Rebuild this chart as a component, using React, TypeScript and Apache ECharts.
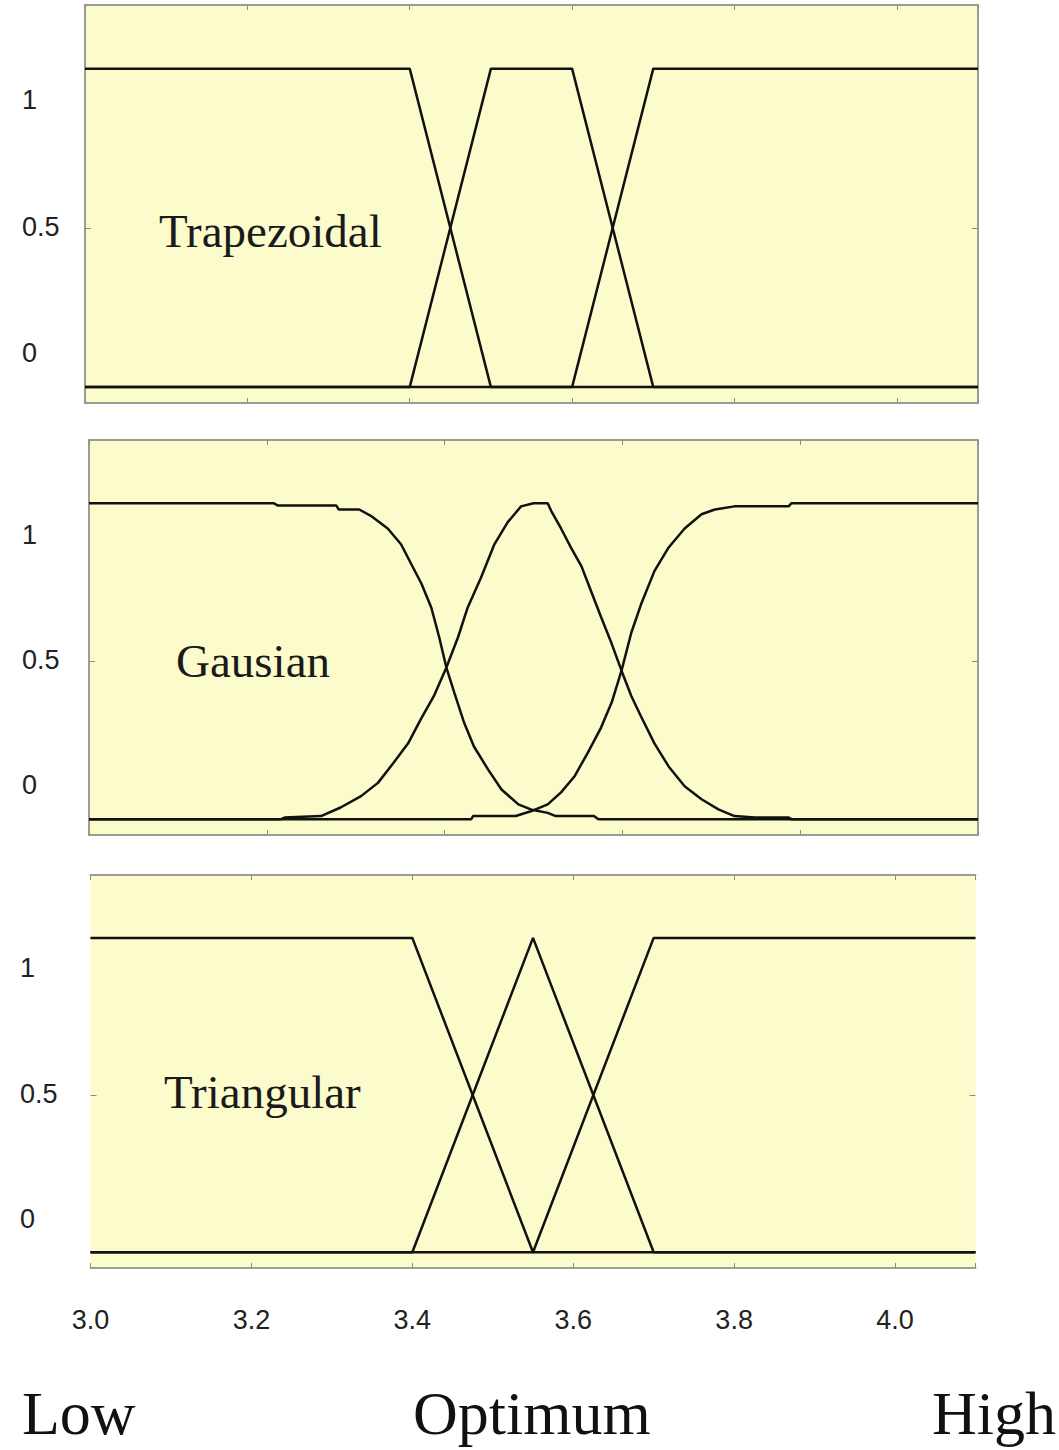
import React, { useEffect, useRef } from "react";
import * as echarts from "echarts";

// ---------- data ----------
const X_MIN = 3.0;
const X_STEP = 0.2;
const Y_TICK_VALUES = [0, 0.5, 1];
const PANEL_TITLES = ["Trapezoidal", "Gausian", "Triangular"];
const BOTTOM_WORDS = ["Low", "Optimum", "High"];

const trapLow = [[3.0, 1], [3.4, 1], [3.5, 0], [4.1, 0]];
const trapMid = [[3.0, 0], [3.4, 0], [3.5, 1], [3.6, 1], [3.7, 0], [4.1, 0]];
const trapHigh = [[3.0, 0], [3.6, 0], [3.7, 1], [4.1, 1]];

const gaussLow = [
  [3.0, 1], [3.208, 1], [3.212, 0.993], [3.278, 0.993], [3.281, 0.98], [3.304, 0.98],
  [3.317, 0.96], [3.336, 0.92], [3.351, 0.87], [3.362, 0.81], [3.374, 0.745], [3.385, 0.67],
  [3.394, 0.575], [3.402, 0.48], [3.411, 0.4], [3.422, 0.305], [3.433, 0.23], [3.449, 0.157],
  [3.464, 0.094], [3.483, 0.047], [3.497, 0.031], [3.516, 0.02], [3.525, 0.01], [3.568, 0.01],
  [3.573, 0], [4.0, 0],
];
const gaussMid = [
  [3.0, 0], [3.216, 0], [3.22, 0.005], [3.261, 0.01], [3.283, 0.037], [3.306, 0.073],
  [3.325, 0.115], [3.343, 0.18], [3.359, 0.24], [3.373, 0.315], [3.388, 0.39], [3.402, 0.48],
  [3.415, 0.575], [3.426, 0.67], [3.441, 0.765], [3.456, 0.87], [3.471, 0.94], [3.486, 0.99],
  [3.5, 1], [3.516, 1], [3.52, 0.975], [3.531, 0.92], [3.542, 0.86], [3.554, 0.8],
  [3.565, 0.72], [3.576, 0.64], [3.588, 0.555], [3.599, 0.47], [3.61, 0.39], [3.621, 0.325],
  [3.636, 0.24], [3.652, 0.167], [3.67, 0.104], [3.689, 0.063], [3.708, 0.031], [3.726, 0.01],
  [3.749, 0.005], [3.787, 0.005], [3.79, 0], [4.0, 0],
];
const gaussHigh = [
  [3.0, 0], [3.43, 0], [3.432, 0.01], [3.48, 0.01], [3.497, 0.025], [3.516, 0.047],
  [3.531, 0.085], [3.546, 0.135], [3.561, 0.21], [3.576, 0.29], [3.588, 0.37], [3.599, 0.47],
  [3.61, 0.59], [3.621, 0.68], [3.636, 0.785], [3.652, 0.86], [3.67, 0.92], [3.689, 0.965],
  [3.704, 0.98], [3.726, 0.99], [3.787, 0.99], [3.79, 1], [4.0, 1],
];

const triLow = [[3.0, 1], [3.4, 1], [3.55, 0], [4.1, 0]];
const triMid = [[3.0, 0], [3.4, 0], [3.55, 1], [3.7, 0], [4.1, 0]];
const triHigh = [[3.0, 0], [3.55, 0], [3.7, 1], [4.1, 1]];

const PANEL_SERIES = [
  [trapLow, trapMid, trapHigh],
  [gaussLow, gaussMid, gaussHigh],
  [triLow, triMid, triHigh],
];
const PANEL_X_MAX = [4.1, 4.0, 4.1];

// ---------- layout ----------
const PANELS = [
  { left: 85, top: 5, width: 893, height: 398, sideLines: true, labelX: 22, label1: 100, label0: 353, titleX: 159, titleY: 231 },
  { left: 89, top: 440, width: 889, height: 395, sideLines: true, labelX: 22, label1: 535, label0: 785, titleX: 176, titleY: 661 },
  { left: 90.5, top: 875, width: 885, height: 393, sideLines: false, labelX: 20, label1: 968, label0: 1219, titleX: 164, titleY: 1092 },
];
const Y_MIN = -0.05;
const Y_MAX = 1.2;
const BG = "#fbfbcb";
const BORDER = "#9d9d95";
const TICK = "#8c8c84";
const INK = "#111111";
const LABEL_INK = "#222222";
const SANS = '"Liberation Sans", Arial, sans-serif';
const SERIF = '"Liberation Serif", "Times New Roman", serif';
const WORD_X = [22, 413, 932];
const WORD_Y = 1413;

function buildOption() {
  const grid: any[] = [];
  const xAxis: any[] = [];
  const yAxis: any[] = [];
  const series: any[] = [];
  const graphic: any[] = [];

  PANELS.forEach((p, i) => {
    grid.push({
      left: p.left, top: p.top, width: p.width, height: p.height,
      show: true, backgroundColor: BG, borderWidth: 0, containLabel: false,
    });
    const xMax = PANEL_X_MAX[i];
    const xBase = {
      gridIndex: i, type: "value", min: X_MIN, max: xMax, interval: X_STEP,
      axisLine: { show: true, onZero: false, lineStyle: { color: BORDER, width: 2 } },
      axisTick: { show: true, inside: true, length: 5, lineStyle: { color: TICK, width: 1 } },
      splitLine: { show: false },
    };
    xAxis.push({
      ...xBase, position: "bottom",
      axisLabel: {
        show: i === 2, margin: 38, fontSize: 27, fontFamily: SANS, color: LABEL_INK,
        formatter: (v: number) => (v > 4.05 ? "" : v.toFixed(1)),
      },
    });
    xAxis.push({ ...xBase, position: "top", axisLabel: { show: false } });

    const yBase = {
      gridIndex: i, type: "value", min: Y_MIN, max: Y_MAX,
      splitLine: { show: false },
      axisLabel: { show: false },
      axisTick: { show: true, inside: true, length: 6, customValues: Y_TICK_VALUES, lineStyle: { color: TICK, width: 1 } },
    };
    yAxis.push({
      ...yBase, position: "left",
      axisLine: { show: p.sideLines, onZero: false, lineStyle: { color: BORDER, width: 2 } },
    });
    yAxis.push({
      ...yBase, position: "right",
      axisLine: { show: p.sideLines, onZero: false, lineStyle: { color: BORDER, width: 2 } },
    });
    // label-only axis: places the 0 / 0.5 / 1 labels where the original draws them
    const bottom = p.top + p.height;
    const span = p.label0 - p.label1;
    const lMin = -(bottom - p.label0) / span;
    const lMax = lMin + p.height / span;
    yAxis.push({
      gridIndex: i, type: "value", position: "left", min: lMin, max: lMax,
      axisLine: { show: false, onZero: false },
      axisTick: { show: false },
      splitLine: { show: false },
      axisLabel: {
        show: true, customValues: Y_TICK_VALUES, align: "left", margin: p.left - p.labelX,
        fontSize: 27, fontFamily: SANS, color: LABEL_INK,
        formatter: (v: number) => String(v),
      },
    });

    PANEL_SERIES[i].forEach((data) => {
      series.push({
        type: "line", xAxisIndex: 2 * i, yAxisIndex: 3 * i, data,
        symbol: "none", showSymbol: false, silent: true,
        lineStyle: { color: INK, width: 2.5 }, z: 5,
      });
    });

    graphic.push({
      type: "text", x: p.titleX, y: p.titleY, z: 10,
      style: { text: PANEL_TITLES[i], fontSize: 47, fontFamily: SERIF, fill: "#1a1a1a", verticalAlign: "middle", align: "left" },
    });
  });

  BOTTOM_WORDS.forEach((w, k) => {
    graphic.push({
      type: "text", x: WORD_X[k], y: WORD_Y, z: 10,
      style: { text: w, fontSize: 62, fontFamily: SERIF, fill: "#111", verticalAlign: "middle", align: "left" },
    });
  });

  return {
    animation: false,
    backgroundColor: "#ffffff",
    grid, xAxis, yAxis, series, graphic,
  };
}

export default function App() {
  const ref = useRef<HTMLDivElement>(null);
  useEffect(() => {
    if (!ref.current) return;
    const chart = echarts.init(ref.current, null, { renderer: "svg" });
    chart.setOption(buildOption() as any);
    return () => chart.dispose();
  }, []);
  return (
    <div
      ref={ref}
      style={{ position: "absolute", left: 0, top: 0, width: 1059, height: 1450 }}
    />
  );
}
